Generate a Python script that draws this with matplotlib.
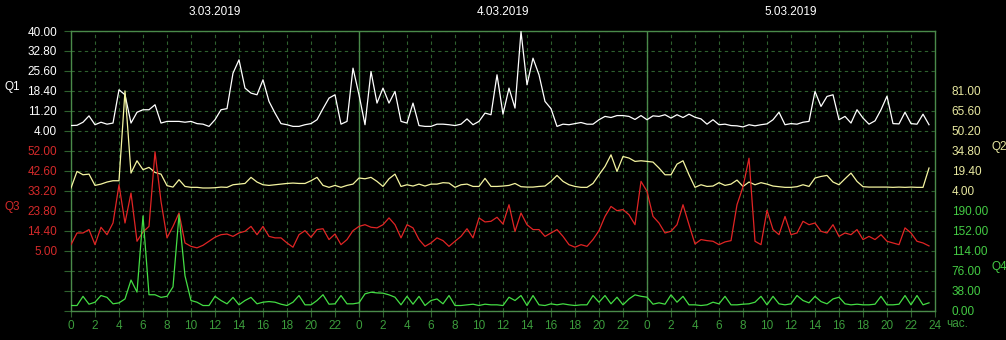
import numpy as np
import matplotlib
matplotlib.use('Agg')
import matplotlib.pyplot as plt

plt.rcParams['font.family'] = ['Liberation Sans', 'DejaVu Sans']

##############################################################################
# data: 3 days, one value every half hour

days = ['3.03.2019', '4.03.2019', '5.03.2019']
hours = np.arange(144) * 0.5

q1 = [5.9, 6.0, 7.1, 9.4, 6.2, 7.1, 6.4, 6.8, 18.8, 17.0, 6.8, 10.7, 11.6, 11.6, 13.4, 6.8,
      7.4, 7.4, 7.4, 7.1, 7.4, 6.6, 6.4, 5.6, 8.0, 11.6, 12.0, 24.8, 29.6, 19.4, 17.6, 17.0,
      22.4, 14.6, 10.4, 6.6, 6.2, 5.6, 5.6, 6.2, 6.6, 8.0, 12.0, 15.8, 17.0, 6.4, 7.4, 26.6,
      17.0, 6.2, 25.4, 14.0, 19.4, 14.0, 18.2, 7.4, 6.8, 14.0, 5.9, 5.6, 5.6, 6.4, 6.4, 6.2,
      5.9, 6.4, 8.3, 6.2, 7.4, 10.4, 9.8, 24.2, 10.0, 19.4, 12.2, 39.8, 20.6, 30.2, 24.2, 14.6,
      12.0, 5.6, 6.4, 6.2, 6.6, 7.0, 6.4, 6.4, 8.0, 9.2, 8.8, 9.5, 9.5, 9.2, 8.1, 9.5,
      8.0, 9.4, 9.2, 9.8, 8.6, 9.8, 8.8, 10.0, 8.9, 8.3, 6.4, 8.0, 6.2, 6.4, 5.9, 5.8,
      5.4, 6.2, 5.8, 6.2, 6.5, 8.0, 10.7, 6.2, 6.6, 6.4, 7.1, 7.4, 18.2, 12.8, 16.4, 17.0,
      8.0, 9.2, 6.8, 11.6, 8.6, 6.4, 7.6, 11.6, 16.5, 6.6, 6.5, 10.7, 6.6, 6.4, 10.0, 6.2]

q2 = [6.1, 18.9, 16.3, 16.8, 8.1, 9.1, 10.7, 11.7, 11.7, 81.0, 17.6, 27.1, 20.2, 22.0, 18.1, 16.8,
      7.9, 6.8, 12.5, 7.3, 6.6, 6.6, 6.1, 6.1, 6.3, 6.8, 6.6, 8.6, 9.1, 9.6, 14.3, 10.7,
      8.6, 8.1, 8.6, 9.1, 9.6, 9.9, 9.6, 9.6, 11.7, 14.3, 8.1, 6.6, 8.1, 6.6, 8.1, 9.1,
      13.8, 13.2, 14.3, 11.2, 7.3, 13.2, 16.8, 7.3, 8.6, 7.6, 9.1, 7.6, 9.1, 9.1, 10.2, 9.9,
      6.6, 8.6, 9.1, 7.3, 7.3, 13.5, 7.3, 7.3, 7.6, 8.1, 9.6, 7.1, 6.8, 6.8, 7.3, 7.6,
      11.2, 15.8, 11.2, 8.6, 7.3, 6.6, 6.6, 9.6, 16.3, 22.7, 31.7, 18.9, 30.4, 29.2, 26.6, 27.1,
      26.6, 26.1, 21.5, 16.3, 16.3, 24.5, 27.1, 16.3, 6.6, 8.6, 7.3, 7.6, 10.2, 8.1, 9.1, 12.2,
      7.3, 10.7, 8.6, 10.2, 9.1, 7.6, 7.1, 6.6, 6.6, 7.1, 8.6, 7.3, 13.8, 15.0, 15.8, 10.7,
      8.6, 13.2, 17.6, 11.2, 7.1, 6.8, 6.8, 6.8, 6.8, 6.6, 6.8, 6.6, 6.8, 6.6, 6.6, 21.5]

q3 = [7.8, 13.3, 13.3, 14.9, 7.8, 16.0, 12.5, 18.0, 36.0, 18.0, 32.1, 9.4, 13.8, 16.4, 51.5, 28.2,
      11.0, 16.4, 22.7, 8.6, 7.0, 6.3, 7.5, 9.4, 11.3, 12.5, 12.8, 11.7, 13.3, 14.1, 16.4, 12.5,
      16.4, 11.7, 11.0, 11.0, 8.6, 6.6, 12.5, 14.4, 11.3, 14.9, 15.3, 10.2, 12.8, 7.8, 10.2, 14.4,
      16.4, 17.2, 16.0, 15.7, 17.2, 20.4, 17.2, 11.0, 17.2, 15.7, 10.2, 7.0, 8.6, 11.0, 9.7, 7.0,
      9.4, 11.7, 15.3, 11.0, 20.4, 18.5, 18.8, 20.7, 17.5, 26.6, 14.0, 22.7, 17.2, 14.9, 14.9, 11.7,
      13.3, 14.9, 11.7, 7.8, 6.6, 7.8, 7.0, 10.2, 14.4, 21.1, 25.8, 23.8, 24.3, 21.9, 17.2, 37.6,
      32.9, 21.1, 18.0, 13.3, 14.1, 17.2, 26.6, 17.2, 8.1, 10.2, 9.7, 9.4, 7.8, 9.1, 9.7, 26.6,
      35.0, 48.5, 9.4, 7.8, 24.0, 14.9, 12.5, 21.1, 12.5, 13.3, 18.8, 17.2, 18.0, 14.1, 13.3, 17.2,
      11.7, 13.3, 12.5, 14.9, 10.2, 11.7, 10.2, 12.5, 9.4, 8.6, 7.8, 15.7, 13.3, 9.4, 8.6, 7.2]

q4 = [9.5, 9.5, 27, 12, 15.8, 28.5, 25, 12.7, 14.5, 22, 58, 35, 180, 30, 30, 25,
      27, 45, 182, 66, 19, 15.8, 9.5, 9.5, 27, 19, 12.7, 25, 10.8, 19, 25, 12.7,
      15.8, 17, 15.8, 12, 9.5, 15.8, 28.5, 10.8, 10.8, 19, 30, 12, 12.7, 28.5, 12.7, 12.7,
      14.6, 31.7, 34.8, 33.5, 33, 29.8, 25.3, 10.8, 27, 12, 27, 9.5, 19, 22, 12.7, 28.5,
      9.5, 9.5, 10.8, 12, 9.5, 12, 10.8, 10.8, 9.5, 25.3, 19, 28.5, 9.5, 28.5, 10.8, 9.5,
      12.7, 10.8, 12.7, 10.8, 9.5, 10.8, 10.8, 28.5, 15.8, 28.5, 12.7, 25.3, 10.8, 22, 29.8, 27,
      25.3, 12, 14.6, 12, 29.8, 15.8, 27, 10.8, 10.8, 9.5, 10.8, 15.8, 12.7, 27, 10.8, 10.8,
      12, 12.7, 15.8, 27, 10.8, 27, 12.7, 10.8, 12.7, 28.5, 19, 14.6, 27, 17, 12.7, 22,
      25.3, 12.7, 10.8, 12, 10.8, 10.8, 12, 27, 10.8, 10.8, 12, 28.5, 10.8, 28.5, 10.8, 14.6]

q1_ticks = [4.0, 11.2, 18.4, 25.6, 32.8, 40.0]
q2_ticks = [4.0, 19.4, 34.8, 50.2, 65.6, 81.0]
q3_ticks = [5.0, 14.4, 23.8, 33.2, 42.6, 52.0]
q4_ticks = [0.0, 38.0, 76.0, 114.0, 152.0, 190.0]

##############################################################################
# style

BG = 'black'
GRID = '#2e602e'
FRAME = '#4a8a4a'
XLAB = '#3c9c3c'
NROWS = 14   # horizontal grid cells

W, H = 1006, 340
fig = plt.figure(figsize=(W / 100, H / 100), dpi=100, facecolor=BG)
L, R, T, B = 71, 935, 31, 310.5
pos = [L / W, 1 - B / H, (R - L) / W, (B - T) / H]

ax = fig.add_axes(pos)
ax.set_facecolor(BG)
ax.set_xlim(0, 72)
ax.set_ylim(0, NROWS)
ax.set_xticks(np.arange(0, 73, 2))
ax.set_xticklabels([str(h % 24) if h < 72 else '24' for h in range(0, 73, 2)])
ax.set_yticks(np.arange(0, NROWS + 1))
ax.tick_params(axis='y', left=False, right=True, labelleft=False, length=5, color=GRID, width=0.8)
ax.tick_params(axis='x', length=4, color=GRID, labelcolor=XLAB, labelsize=8.5, pad=3)
ax.grid(True, color=GRID, linestyle=(0, (3, 3)), linewidth=0.8)
for d in (24, 48):
    ax.axvline(d, color=FRAME, linewidth=1.0)
for s in ax.spines.values():
    s.set_color(FRAME)
    s.set_linewidth(1.0)

for i, d in enumerate(days):
    ax.text(i * 24 + 12, 1.068, d, transform=ax.get_xaxis_transform(),
            ha='center', va='center', color='white', fontsize=8.5)

# one overlay axes per series, scaled so its ticks sit on the grid rows
series = [
    (q1, q1_ticks, 9, 'white', 'white', 'left', 'Q1', 87),
    (q2, q2_ticks, 6, '#f4f4a0', '#e8e8a0', 'right', 'Q2', 147),
    (q3, q3_ticks, 3, '#e02424', '#d42a2a', 'left', 'Q3', 207),
    (q4, q4_ticks, 0, '#44dd44', '#44cc44', 'right', 'Q4', 267),
]
for vals, ticks, row, lc, tc, side, name, ly in series:
    step = ticks[1] - ticks[0]
    lo = ticks[0] - row * step
    a = ax.twinx()
    a.set_ylim(lo, lo + NROWS * step)
    a.plot(hours, vals, color=lc, linewidth=0.9)
    a.set_yticks(ticks)
    a.set_yticklabels(['%.2f' % t for t in ticks])
    if side == 'left':
        a.yaxis.set_ticks_position('left')
        a.tick_params(axis='y', length=0, pad=10, labelcolor=tc, labelsize=8.5)
        fig.text(12 / W, 1 - ly / H, name, color=tc, fontsize=8.5, ha='center', va='center')
    else:
        a.tick_params(axis='y', length=0, pad=12, labelcolor=tc, labelsize=8.5)
        fig.text(999 / W, 1 - ly / H, name, color=tc, fontsize=8.5, ha='center', va='center')
    for s in a.spines.values():
        s.set_visible(False)

fig.text(946 / W, 1 - 324 / H, 'час.', color=XLAB, fontsize=8.5, ha='left', va='center')

fig.savefig('out.png', dpi=100, facecolor=BG)
